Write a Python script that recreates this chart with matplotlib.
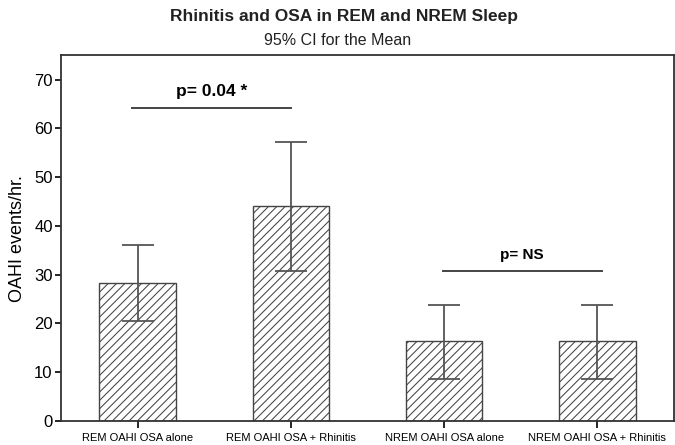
import numpy as np
import matplotlib.pyplot as plt

plt.rcParams['font.family'] = ['Liberation Sans', 'DejaVu Sans']
plt.rcParams['hatch.linewidth'] = 0.75
plt.rcParams['hatch.color'] = '#555555'

groups = ['REM OAHI OSA alone', 'REM OAHI OSA + Rhinitis',
          'NREM OAHI OSA alone', 'NREM OAHI OSA + Rhinitis']
means = [28.3, 44.1, 16.3, 16.3]
ci_low = [20.5, 30.8, 8.7, 8.7]
ci_high = [36.1, 57.3, 23.8, 23.8]

x = np.arange(len(groups))
yerr = [np.array(means) - np.array(ci_low), np.array(ci_high) - np.array(means)]

fig = plt.figure(figsize=(6.75, 4.45), dpi=100)
ax = fig.add_axes([0.0904, 0.054, 0.908, 0.822])

ax.bar(x, means, width=0.5, color='white', edgecolor='#444444', linewidth=1.0,
       hatch='////', zorder=2)
ax.errorbar(x, means, yerr=yerr, fmt='none', ecolor='#555555', elinewidth=1.3,
            capsize=11.5, capthick=1.3, zorder=3)

# significance markers
ax.plot([-0.04, 1.0], [64.2, 64.2], color='#444444', lw=1.4)
ax.text(0.48, 66.0, 'p= 0.04 *', ha='center', va='bottom', fontsize=12.5, fontweight='bold')
ax.plot([1.99, 3.03], [30.7, 30.7], color='#444444', lw=1.4)
ax.text(2.51, 32.6, 'p= NS', ha='center', va='bottom', fontsize=11, fontweight='bold')

ax.set_xlim(-0.5, 3.5)
ax.set_ylim(0, 75)
ax.set_yticks(np.arange(0, 71, 10))
ax.set_xticks(x)
ax.set_xticklabels(groups, fontsize=8)
ax.tick_params(axis='y', labelsize=12, length=4, width=1.2, pad=2)
ax.tick_params(axis='x', length=5, width=1.2, pad=4)
ax.set_ylabel('OAHI events/hr.', fontsize=13, labelpad=6)
for s in ax.spines.values():
    s.set_color('#333333')
    s.set_linewidth(1.3)

fig.text(0.51, 0.962, 'Rhinitis and OSA in REM and NREM Sleep', ha='center', va='center',
         fontsize=12.5, fontweight='bold', color='#222222')
fig.text(0.50, 0.908, '95% CI for the Mean', ha='center', va='center',
         fontsize=11.5, color='#222222')

fig.savefig('out.png', dpi=100)
